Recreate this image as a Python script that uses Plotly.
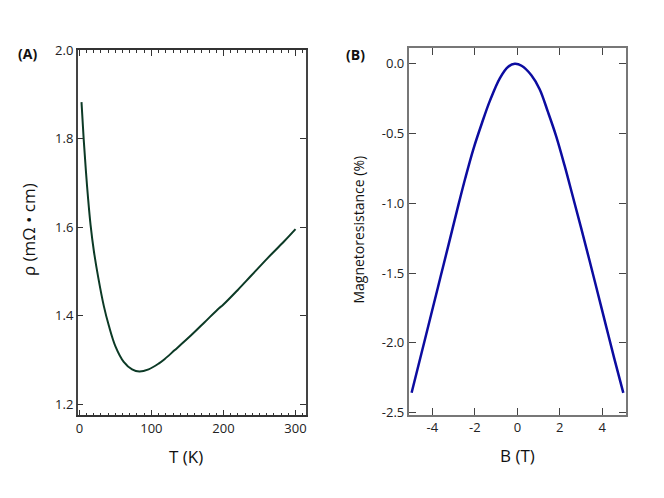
import plotly.graph_objects as go
from plotly.subplots import make_subplots

# panel A: resistivity vs temperature
temp_k = [3, 6, 9, 12, 15.6, 20.2, 26.2, 34, 40.9, 50.1, 61.6, 73.2, 83.3, 96.1,
          110, 118.2, 132, 155.1, 173.5, 194.2, 198.9, 219.6, 238, 261, 284, 300]
rho = [1.883, 1.800, 1.730, 1.668, 1.605, 1.546, 1.487, 1.422, 1.378, 1.331, 1.296, 1.279, 1.274, 1.279,
       1.292, 1.302, 1.322, 1.356, 1.385, 1.418, 1.424, 1.458, 1.490, 1.530, 1.568, 1.596]

# panel B: magnetoresistance vs field
field_t = [-4.98, -4.48, -4.01, -3.62, -3.23, -2.84, -2.45, -2.07, -1.67, -1.29, -0.82, -0.43, -0.12,
           0.2, 0.66, 1.05, 1.44, 1.83, 2.22, 2.61, 3.0, 3.39, 3.78, 4.17, 4.56, 4.99]
mr_pct = [-2.359, -2.054, -1.767, -1.529, -1.291, -1.051, -0.819, -0.611, -0.426, -0.264, -0.102, -0.021, 0.0,
          -0.014, -0.082, -0.182, -0.345, -0.52, -0.727, -0.95, -1.175, -1.405, -1.64, -1.875, -2.11, -2.359]

a_xticks = [0, 100, 200, 300]
a_yticks = [1.2, 1.4, 1.6, 1.8, 2.0]
b_xticks = [-4, -2, 0, 2, 4]
b_xlabels = ["-4", "-2", "0", "2", "4"]
b_yticks = [-2.5, -2.0, -1.5, -1.0, -0.5, 0.0]
b_ylabels = ["-2.5", "-2.0", "-1.5", "-1.0", "-0.5", "0.0"]

fig = make_subplots(rows=1, cols=2)

fig.add_trace(go.Scatter(x=temp_k, y=rho, mode="lines", line=dict(color="#0c3a26", width=2, shape="spline"),
                         showlegend=False), row=1, col=1)
fig.add_trace(go.Scatter(x=field_t, y=mr_pct, mode="lines", line=dict(color="#0c0ca0", width=2.5, shape="spline"),
                         showlegend=False), row=1, col=2)

tickfont = dict(family="Open Sans", size=13, color="#222")

fig.update_xaxes(domain=[0.1145, 0.4593], range=[-2.3, 314], tickvals=a_xticks,
                 showline=True, linecolor="#333", linewidth=1.5, mirror="ticks",
                 ticks="inside", ticklen=6, tickcolor="#333", tickwidth=1.2,
                 minor=dict(dtick=10, ticks="inside", ticklen=3, tickcolor="#333", tickwidth=1),
                 showgrid=False, zeroline=False, tickfont=tickfont, row=1, col=1)
fig.update_yaxes(domain=[0.1586, 0.9143], range=[1.175, 2.0], tickvals=a_yticks, tickformat=".1f",
                 showline=True, linecolor="#444", linewidth=1.5, mirror="ticks",
                 ticks="inside", ticklen=6, tickcolor="#333", tickwidth=1.2,
                 showgrid=False, zeroline=False, tickfont=tickfont, row=1, col=1)
fig.update_xaxes(domain=[0.6155, 0.9438], range=[-5.11, 5.11], tickvals=b_xticks, ticktext=b_xlabels,
                 showline=True, linecolor="#777", linewidth=2, mirror="ticks",
                 ticks="inside", ticklen=7, tickcolor="#444", tickwidth=1.2,
                 showgrid=False, zeroline=False, tickfont=tickfont, row=1, col=2)
fig.update_yaxes(domain=[0.160, 0.9183], range=[-2.516, 0.11], tickvals=b_yticks, ticktext=b_ylabels,
                 showline=True, linecolor="#777", linewidth=2, mirror="ticks",
                 ticks="inside", ticklen=7, tickcolor="#444", tickwidth=1.2,
                 showgrid=False, zeroline=False, tickfont=tickfont, row=1, col=2)

# labels
notes = [
    dict(x=26 / 664, y=1 - 46 / 498, text="<b>(A)</b>", size=14, angle=0),
    dict(x=355 / 664, y=1 - 47 / 498, text="<b>(B)</b>", size=14, angle=0),
    dict(x=185 / 664, y=1 - 461 / 498, text="T (K)", size=17, angle=0),
    dict(x=518 / 664, y=1 - 460 / 498, text="B (T)", size=17, angle=0),
    dict(x=26 / 664, y=1 - 227 / 498, text="ρ (mΩ • cm)", size=17, angle=-90),
    dict(x=358 / 664, y=1 - 227 / 498, text="Magnetoresistance (%)", size=14, angle=-90),
]
for n in notes:
    fig.add_annotation(x=n["x"], y=n["y"], xref="paper", yref="paper", text=n["text"],
                       showarrow=False, textangle=n["angle"], xanchor="center", yanchor="middle",
                       font=dict(family="Open Sans", size=n["size"], color="#111"))

fig.update_layout(width=664, height=498, margin=dict(l=0, r=0, t=0, b=0),
                  plot_bgcolor="white", paper_bgcolor="white")

fig.write_html("out.html", config={"displayModeBar": False},
               post_script="document.body.style.margin='0';")
